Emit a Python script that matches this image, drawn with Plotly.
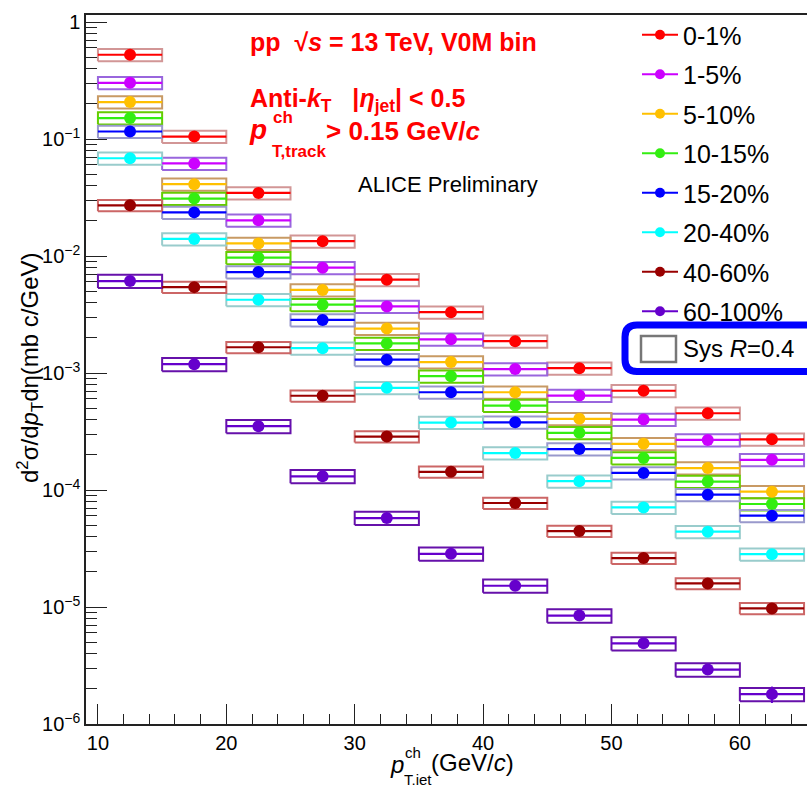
import plotly.graph_objects as go

# ---------------- data ----------------
bin_lo = [10, 15, 20, 25, 30, 35, 40, 45, 50, 55, 60]
bin_hi = [15, 20, 25, 30, 35, 40, 45, 50, 55, 60, 65]
bin_center = [12.5, 17.5, 22.5, 27.5, 32.5, 37.5, 42.5, 47.5, 52.5, 57.5, 62.5]

labels = ["0-1%", "1-5%", "5-10%", "10-15%", "15-20%", "20-40%", "40-60%", "60-100%"]

y_0_1 = [0.525, 0.105, 0.0346, 0.0134, 0.00628, 0.00331, 0.00187, 0.00110, 0.000705, 0.000453, 0.000271]
y_1_5 = [0.302, 0.0618, 0.0202, 0.00795, 0.00371, 0.00194, 0.00108, 0.000642, 0.000400, 0.000268, 0.000181]
y_5_10 = [0.207, 0.0411, 0.0128, 0.00513, 0.00240, 0.00124, 0.000685, 0.000406, 0.000248, 0.000154, 0.0000967]
y_10_15 = [0.151, 0.0310, 0.00968, 0.00384, 0.00179, 0.000939, 0.000527, 0.000308, 0.000188, 0.000118, 0.0000759]
y_15_20 = [0.116, 0.0236, 0.00729, 0.00284, 0.00130, 0.000685, 0.000379, 0.000224, 0.000140, 0.0000912, 0.0000603]
y_20_40 = [0.0685, 0.0140, 0.00423, 0.00163, 0.000747, 0.000377, 0.000207, 0.000119, 0.0000710, 0.0000440, 0.0000283]
y_40_60 = [0.0271, 0.00542, 0.00166, 0.000639, 0.000286, 0.000143, 0.0000774, 0.0000446, 0.0000262, 0.0000159, 0.00000973]
y_60_100 = [0.00611, 0.00119, 0.000351, 0.000131, 0.0000576, 0.0000285, 0.0000152, 0.00000845, 0.00000489, 0.00000292, 0.00000180]

series = [y_0_1, y_1_5, y_5_10, y_10_15, y_15_20, y_20_40, y_40_60, y_60_100]

# relative systematic uncertainty per class (box half-height)
sys_rel = [0.12, 0.12, 0.12, 0.12, 0.12, 0.12, 0.11, 0.13]
# relative statistical uncertainty (only visible for the last 60-100% point)
stat_rel_60_100 = [0, 0, 0, 0, 0, 0, 0, 0, 0, 0, 0.16]

y_tickvals = [1e-6, 1e-5, 1e-4, 1e-3, 1e-2, 1e-1, 1]
y_ticktext = ["10<sup>−6</sup>", "10<sup>−5</sup>", "10<sup>−4</sup>", "10<sup>−3</sup>",
              "10<sup>−2</sup>", "10<sup>−1</sup>", "1"]
x_tickvals = [10, 20, 30, 40, 50, 60]

# ---------------- style ----------------
marker_colors = ["#ff0000", "#cc00ff", "#ffc000", "#33ee11", "#0000ff", "#00ffff", "#990000", "#6600cc"]
box_colors = ["#d29696", "#9966dd", "#c89a64", "#66cc00", "#9999cc", "#99cccc", "#cc6666", "#6611aa"]
FONT = "Liberation Sans, Arial, sans-serif"

W, H = 807, 785
L, R, T, B = 86, 807, 15, 724   # plot area in pixels


def pxx(x):
    return (x - L) / (R - L)


def pxy(y):
    return (B - y) / (B - T)


fig = go.Figure()

# systematic boxes
for vals, s, bc in zip(series, sys_rel, box_colors):
    bx, by = [], []
    for lo, hi, v in zip(bin_lo, bin_hi, vals):
        bx += [lo, hi, hi, lo, lo, None]
        by += [v * (1 - s), v * (1 - s), v * (1 + s), v * (1 + s), v * (1 - s), None]
    fig.add_trace(go.Scatter(x=bx, y=by, mode="lines", line=dict(color=bc, width=2),
                             showlegend=False, hoverinfo="skip"))

# data points with bin-width horizontal bars
for i, (vals, mc) in enumerate(zip(series, marker_colors)):
    half = [hi - c for hi, c in zip(bin_hi, bin_center)]
    kw = {}
    if i == len(series) - 1:
        kw["error_y"] = dict(type="data", array=[v * r for v, r in zip(vals, stat_rel_60_100)],
                             color=mc, thickness=2, width=0)
    fig.add_trace(go.Scatter(
        x=bin_center, y=vals, mode="markers",
        marker=dict(size=12, color=mc),
        error_x=dict(type="data", array=half, color=mc, thickness=2.2, width=0),
        showlegend=False, **kw))

# legend entries
for lab, mc in zip(labels, marker_colors):
    fig.add_trace(go.Scatter(x=[None], y=[None], mode="lines+markers", name=lab,
                             legendgroup=lab,
                             line=dict(color=mc, width=2), marker=dict(size=10, color=mc)))

annotations = []


def ann(text, x, y, size, color="black", xanchor="left", yanchor="middle", angle=0):
    annotations.append(dict(text=text, x=pxx(x), y=pxy(y), xref="paper", yref="paper",
                            xanchor=xanchor, yanchor=yanchor, showarrow=False,
                            textangle=angle, font=dict(size=size, color=color, family=FONT)))


RED = "#ff0000"
ann("<b>pp\u00a0\u00a0√<i>s</i> = 13 TeV, V0M bin</b>", 248, 42, 25, RED)
ann("<b>Anti-<i>k</i><sub>T</sub>\u00a0\u00a0\u00a0|<i>η</i><sub>jet</sub>| &lt; 0.5</b>", 248, 100, 25, RED)
ann("<b><i>p</i></b>", 247, 130, 28, RED)
ann("<b>ch</b>", 271, 117, 17, RED)
ann("<b>T,track</b>", 270, 151, 17, RED)
ann("<b>&gt; 0.15 GeV/<i>c</i></b>", 324, 131, 26, RED)
ann("ALICE Preliminary", 356, 185, 22)

# axis titles
ann("<i>p</i>", 388, 765, 24)
ann("ch", 403, 752, 15)
ann("T,jet", 402, 779, 15)
ann("(GeV/<i>c</i>)", 429, 763, 24)
ann("d<sup>2</sup>σ/d<i>p</i><sub>T</sub>dη(mb c/GeV)", 30, 368, 24, xanchor="center", angle=-90)

# Sys legend entry
ann("Sys <i>R</i>=0.4", 681, 348, 24)

shapes = []
# rounded blue box around Sys entry
x0, x1, y0, y1, r = 625, 840, 325, 371.5, 12
path = (f"M {pxx(x0 + r)},{pxy(y0)} L {pxx(x1)},{pxy(y0)} L {pxx(x1)},{pxy(y1)} "
        f"L {pxx(x0 + r)},{pxy(y1)} Q {pxx(x0)},{pxy(y1)} {pxx(x0)},{pxy(y1 - r)} "
        f"L {pxx(x0)},{pxy(y0 + r)} Q {pxx(x0)},{pxy(y0)} {pxx(x0 + r)},{pxy(y0)}")
shapes.append(dict(type="path", path=path, xref="paper", yref="paper",
                   line=dict(color="#0000ff", width=7)))
shapes.append(dict(type="rect", xref="paper", yref="paper",
                   x0=pxx(641), x1=pxx(676), y0=pxy(362), y1=pxy(336),
                   line=dict(color="#777777", width=2.5)))

fig.update_layout(
    width=W, height=H,
    margin=dict(l=L, r=W - R, t=T, b=H - B, pad=0),
    paper_bgcolor="white", plot_bgcolor="white",
    font=dict(family=FONT, color="black"),
    showlegend=True,
    legend=dict(x=pxx(637), y=pxy(12), xanchor="left", yanchor="top",
                font=dict(size=25, family=FONT, color="black"),
                bgcolor="rgba(0,0,0,0)", borderwidth=0, tracegroupgap=4,
                itemwidth=36),
    annotations=annotations,
    shapes=shapes,
    xaxis=dict(range=[9.07, 65.23], showgrid=False, zeroline=False,
               showline=True, linecolor="#222", linewidth=1.5, mirror=True,
               tickmode="array", tickvals=x_tickvals,
               ticks="inside", ticklen=20, tickwidth=1.3, tickcolor="#222",
               tickfont=dict(size=20, family=FONT),
               minor=dict(tickmode="array",
                          tickvals=[v for v in range(10, 66, 2) if v % 10 != 0],
                          ticks="inside", ticklen=10, tickwidth=1.3, tickcolor="#222")),
    yaxis=dict(type="log", range=[-6, 0.06], showgrid=False, zeroline=False,
               showline=True, linecolor="#222", linewidth=1.5, mirror=False,
               tickmode="array", tickvals=y_tickvals, ticktext=y_ticktext,
               ticks="inside", ticklen=21, tickwidth=1.3, tickcolor="#222",
               tickfont=dict(size=20, family=FONT),
               minor=dict(tickmode="array",
                          tickvals=[m * 10.0 ** e for e in range(-6, 1) for m in range(2, 10)],
                          ticks="inside", ticklen=11, tickwidth=1.3, tickcolor="#222")),
)

fig.write_html("out.html", config={"displayModeBar": False},
               post_script="document.body.style.margin='0';")
